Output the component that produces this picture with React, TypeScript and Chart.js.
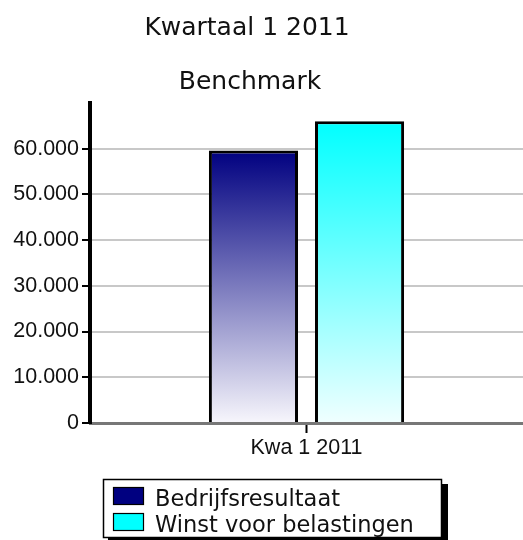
import React, { useEffect, useRef } from "react";
import { Chart, registerables } from "chart.js";

Chart.register(...registerables);

const TITLE = "Kwartaal 1 2011";
const SUBTITLE = "Benchmark";
const categories = ["Kwa 1 2011"];
const seriesNames = ["Bedrijfsresultaat", "Winst voor belastingen"];
const bedrijfsresultaat = [59600];
const winstVoorBelastingen = [66000];
const topColors = ["#000080", "#00ffff"];
const bottomColors = ["#f7f6fc", "#f0ffff"];
const yMax = 70000;
const yStep = 10000;
const yTickMax = 60000;

function fmt(v: number): string {
  return String(Math.round(v)).replace(/\B(?=(\d{3})+(?!\d))/g, ".");
}

function gradientFor(i: number) {
  return (ctx: any) => {
    const chart = ctx.chart;
    const area = chart.chartArea;
    if (!area || ctx.raw == null) return topColors[i];
    const y0 = chart.scales.y.getPixelForValue(ctx.raw);
    const g = chart.ctx.createLinearGradient(0, y0, 0, area.bottom);
    g.addColorStop(0, topColors[i]);
    g.addColorStop(1, bottomColors[i]);
    return g;
  };
}

const titlesPlugin = {
  id: "titles",
  afterDraw(chart: any) {
    const ctx = chart.ctx;
    ctx.save();
    ctx.fillStyle = "#111";
    ctx.textAlign = "center";
    ctx.textBaseline = "alphabetic";
    ctx.font = "25px 'DejaVu Sans'";
    ctx.fillText(TITLE, 247, 35);
    ctx.fillText(SUBTITLE, 250, 89);
    ctx.restore();
  },
};

const legendPlugin = {
  id: "boxLegend",
  afterDraw(chart: any) {
    const ctx = chart.ctx;
    ctx.save();
    ctx.fillStyle = "#000";
    ctx.fillRect(108, 484, 340, 60);
    ctx.fillStyle = "#fff";
    ctx.fillRect(103, 479, 339, 59);
    ctx.strokeStyle = "#000";
    ctx.lineWidth = 1.5;
    ctx.strokeRect(103.5, 479.5, 338, 58);
    ctx.font = "22.5px 'DejaVu Sans'";
    ctx.textBaseline = "alphabetic";
    ctx.textAlign = "left";
    chart.data.datasets.forEach((ds: any, i: number) => {
      const y = 487 + i * 26;
      ctx.fillStyle = topColors[i];
      ctx.fillRect(113, y, 31, 18);
      ctx.strokeStyle = "#000";
      ctx.lineWidth = 1.2;
      ctx.strokeRect(113.5, y + 0.5, 30, 17);
      ctx.fillStyle = "#111";
      ctx.fillText(ds.label, 155, y + 18.5);
    });
    ctx.restore();
  },
};

export default function App() {
  const ref = useRef<HTMLCanvasElement>(null);
  useEffect(() => {
    document.body.style.margin = "0";
    const chart = new Chart(ref.current!, {
      type: "bar",
      data: {
        labels: categories,
        datasets: [
          {
            label: seriesNames[0],
            data: bedrijfsresultaat,
            backgroundColor: gradientFor(0),
            borderColor: "#000",
            borderWidth: 3,
            borderSkipped: "bottom",
          },
          {
            label: seriesNames[1],
            data: winstVoorBelastingen,
            backgroundColor: gradientFor(1),
            borderColor: "#000",
            borderWidth: 3,
            borderSkipped: "bottom",
          },
        ],
      },
      options: {
        animation: false,
        responsive: false,
        layout: { padding: { top: 103, left: 0, right: 0, bottom: 0 } },
        datasets: { bar: { categoryPercentage: 0.49, barPercentage: 0.84 } },
        plugins: {
          legend: { display: false },
          title: { display: false },
          tooltip: { enabled: false },
        },
        scales: {
          x: {
            grid: {
              offset: false,
              drawOnChartArea: false,
              drawTicks: true,
              tickColor: "#000",
              tickLength: 10,
              tickWidth: 2,
            },
            border: { color: "#777", width: 3 },
            ticks: {
              color: "#111",
              font: { family: "'Liberation Sans'", size: 21.5 },
              padding: 2,
            },
            afterFit(scale: any) {
              scale.height = 117;
            },
          },
          y: {
            min: 0,
            max: yMax,
            ticks: {
              stepSize: yStep,
              color: "#111",
              font: { family: "'Liberation Sans'", size: 21.5 },
              padding: 3,
              callback: (v: any) => fmt(Number(v)),
            },
            afterBuildTicks(scale: any) {
              scale.ticks = scale.ticks.filter((t: any) => t.value <= yTickMax);
            },
            grid: {
              color: "#c8c8c8",
              lineWidth: 2,
              tickColor: "#000",
              tickLength: 8,
              tickWidth: 2,
            },
            border: { color: "#000", width: 4 },
            afterFit(scale: any) {
              scale.width = 90;
            },
          },
        },
      },
      plugins: [titlesPlugin, legendPlugin],
    });
    return () => chart.destroy();
  }, []);
  return (
    <div style={{ width: 523, height: 540 }}>
      <canvas ref={ref} width={523} height={540} style={{ display: "block" }} />
    </div>
  );
}
